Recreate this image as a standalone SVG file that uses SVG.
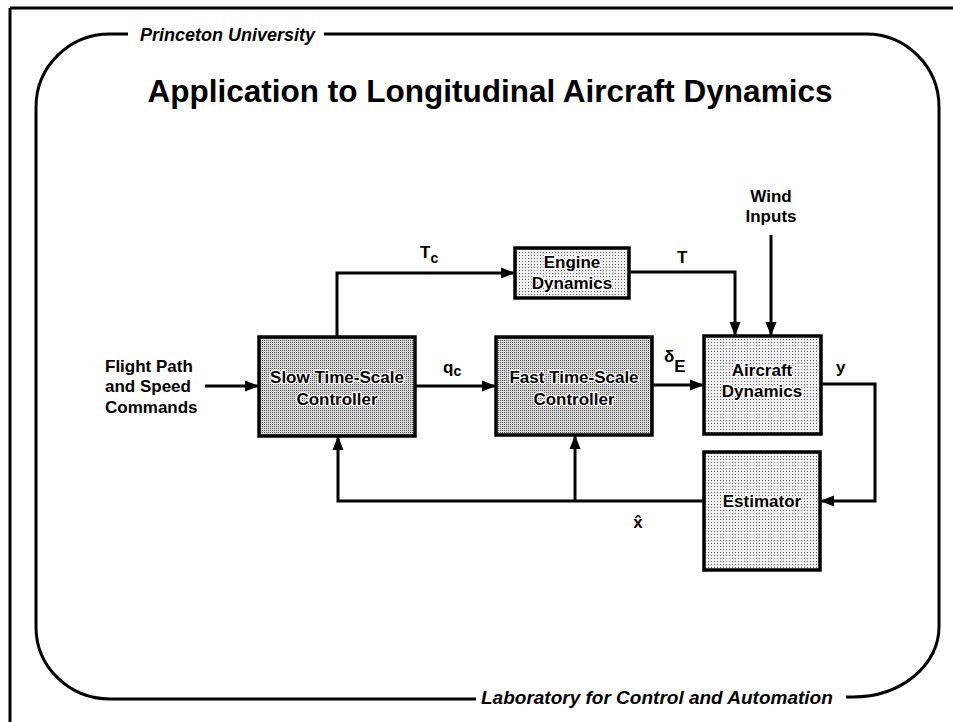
<svg xmlns="http://www.w3.org/2000/svg" width="953" height="722" viewBox="0 0 953 722">
<style>
.frame{fill:none;stroke:#000;stroke-width:3}
.ln{fill:none;stroke:#000;stroke-width:3}
.box{stroke:#000;stroke-width:3.5}
.nt{font-family:"Liberation Sans",Arial,sans-serif;font-weight:bold;font-size:17px;fill:#000;stroke:#fff;stroke-width:2.5;paint-order:stroke;stroke-linejoin:round;text-anchor:middle}
.lb{font-family:"Liberation Sans",Arial,sans-serif;font-weight:bold;font-size:17px;fill:#000}
.hdr{font-family:"Liberation Sans",Arial,sans-serif;font-weight:bold;font-style:italic;font-size:18px;fill:#000}
.title{font-family:"Liberation Sans",Arial,sans-serif;font-weight:bold;font-size:31.5px;fill:#000;text-anchor:middle}
</style>
<defs>
<pattern id="dk" width="2" height="2" patternUnits="userSpaceOnUse"><rect width="2" height="2" fill="#d8d8d8"/><rect width="1" height="1" fill="#555"/></pattern>
<pattern id="lt" width="3" height="3" patternUnits="userSpaceOnUse"><rect width="3" height="3" fill="#f0f0f0"/><rect width="1" height="1" fill="#666"/></pattern>
<marker id="ah" markerUnits="userSpaceOnUse" markerWidth="15" markerHeight="12" refX="14" refY="6" orient="auto"><path d="M0,0.5 L14,6 L0,11.5 z" fill="#000"/></marker>
</defs>
<rect width="953" height="722" fill="#fff"/>
<g id="page-frame">
<path class="frame" d="M10,8 H953 M10,8 V722"/>
<path class="frame" d="M128,34 H110 A74 73 0 0 0 36 107 V627 A74 72 0 0 0 110 699 H476"/>
<path class="frame" d="M324,34 H866 A73 73 0 0 1 939 107 V627 A86 70 0 0 1 853 697 H846"/>
<text class="hdr" x="140" y="41">Princeton University</text>
<text class="hdr" x="481" y="704" style="font-size:19px">Laboratory for Control and Automation</text>
<text class="title" x="490" y="102">Application to Longitudinal Aircraft Dynamics</text>
</g>
<g id="connectors">
<path class="ln" d="M205,386 H259" marker-end="url(#ah)"/>
<path class="ln" d="M337,337 V273 H515" marker-end="url(#ah)"/>
<path class="ln" d="M415,386 H496" marker-end="url(#ah)"/>
<path class="ln" d="M652,385 H704" marker-end="url(#ah)"/>
<path class="ln" d="M629,272 H735 V336" marker-end="url(#ah)"/>
<path class="ln" d="M771,235 V336" marker-end="url(#ah)"/>
<path class="ln" d="M821,384 H875 V501 H820" marker-end="url(#ah)"/>
<path class="ln" d="M704,501 H338 V436" marker-end="url(#ah)"/>
<path class="ln" d="M575,501 V435" marker-end="url(#ah)"/>
</g>
<g id="labels">
<text class="lb" x="105" y="372">Flight Path</text>
<text class="lb" x="105" y="392">and Speed</text>
<text class="lb" x="105" y="413">Commands</text>
<text class="lb" x="771" y="202" text-anchor="middle">Wind</text>
<text class="lb" x="771" y="222" text-anchor="middle">Inputs</text>
<text class="lb" x="420" y="258">T<tspan dy="5" font-size="14">c</tspan></text>
<text class="lb" x="443" y="373">q<tspan dy="3" font-size="14">c</tspan></text>
<text class="lb" x="677" y="263">T</text>
<text class="lb" x="664" y="362" font-size="13">δ<tspan dy="10" font-size="17">E</tspan></text>
<text class="lb" x="836" y="373" font-size="18">y</text>
<text class="lb" x="638" y="528" text-anchor="middle">x̂</text>
</g>
<g id="engine">
<rect class="box" x="515" y="248" width="114" height="50" fill="url(#lt)"/>
<text class="nt" x="572" y="268">Engine</text>
<text class="nt" x="572" y="289">Dynamics</text>
</g>
<g id="slow">
<rect class="box" x="259" y="337" width="156" height="99" fill="url(#dk)"/>
<text class="nt" x="337" y="383">Slow Time-Scale</text>
<text class="nt" x="337" y="405">Controller</text>
</g>
<g id="fast">
<rect class="box" x="496" y="337" width="156" height="98" fill="url(#dk)"/>
<text class="nt" x="574" y="383">Fast Time-Scale</text>
<text class="nt" x="574" y="405">Controller</text>
</g>
<g id="aircraft">
<rect class="box" x="704" y="336" width="117" height="98" fill="url(#lt)"/>
<text class="nt" x="762" y="376">Aircraft</text>
<text class="nt" x="762" y="397">Dynamics</text>
</g>
<g id="estimator">
<rect class="box" x="704" y="452" width="116" height="118" fill="url(#lt)"/>
<text class="nt" x="762" y="507">Estimator</text>
</g>
</svg>
